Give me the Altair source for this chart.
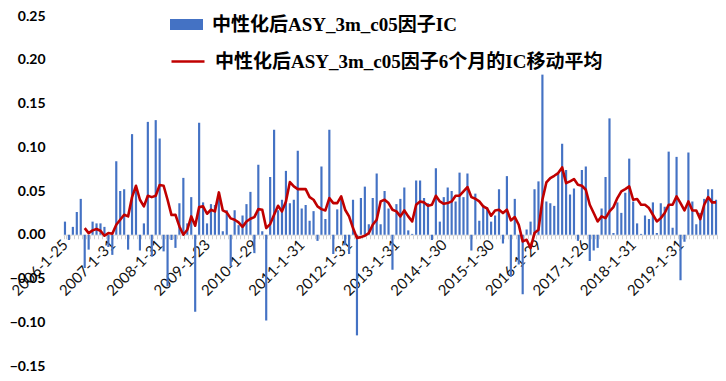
import json
import altair as alt
import pandas as pd

TICK_LABELS = ["2006-1-25", "2007-1-31", "2008-1-31", "2009-1-23", "2010-1-29",
               "2011-1-31", "2012-1-31", "2013-1-31", "2014-1-30", "2015-1-30",
               "2016-1-29", "2017-1-26", "2018-1-31", "2019-1-31"]

SERIES_BAR = "中性化后ASY_3m_c05因子IC"
SERIES_LINE = "中性化后ASY_3m_c05因子6个月的IC移动平均"

IC = [
    0.015, -0.006, 0.009, 0.026, 0.041, -0.038, -0.017, 0.015, 0.013, 0.013,
    0.009, -0.014, -0.023, 0.084, 0.050, 0.052, -0.017, 0.115, 0.052, -0.018,
    0.013, 0.129, -0.025, 0.131, 0.110, -0.019, -0.059, -0.006, -0.015, 0.036,
    0.065, 0.013, 0.043, -0.088, 0.128, 0.037, 0.013, 0.035, 0.034, 0.043,
    0.004, 0.028, -0.036, 0.028, 0.011, 0.022, 0.035, 0.049, -0.021, 0.080,
    0.004, -0.098, 0.066, 0.120, 0.028, 0.040, 0.073, 0.036, 0.040, 0.096,
    0.030, 0.034, 0.016, 0.027, -0.007, 0.078, 0.018, 0.120, -0.022, 0.029,
    0.043, -0.012, -0.022, 0.040, -0.115, 0.042, 0.055, 0.012, 0.042, 0.070,
    0.012, 0.050, 0.030, -0.040, 0.035, 0.041, 0.054, 0.005, 0.001, 0.062,
    0.062, 0.042, 0.036, -0.006, 0.076, 0.015, 0.043, 0.054, 0.050, 0.038,
    0.071, 0.043, 0.070, -0.018, 0.047, 0.016, 0.034, 0.031, 0.015, 0.022,
    0.052, -0.010, 0.067, -0.048, 0.041, -0.034, -0.068, 0.006, 0.015, 0.052,
    0.061, 0.183, 0.038, 0.036, 0.033, 0.070, 0.104, 0.074, 0.046, 0.053,
    -0.007, 0.074, 0.078, -0.030, -0.018, -0.015, 0.030, 0.066, 0.133, 0.002,
    0.037, 0.025, 0.048, 0.087, 0.038, 0.013, 0.001, 0.022, 0.018, 0.037,
    0.002, 0.036, 0.032, 0.095, 0.008, 0.089, -0.052, -0.008, 0.094, 0.038,
    0.012, 0.025, 0.041, 0.052, 0.052, 0.040,
]

IC_MA6 = [None, None, None, None, None,
    0.0076, 0.0019, 0.0050, 0.0065, 0.0046, -0.0011, 0.0019, 0.0011, 0.0114, 0.0171,
    0.0229, 0.0210, 0.0430, 0.0560, 0.0400, 0.0324, 0.0446, 0.0430, 0.0446, 0.0568,
    0.0560, 0.0400, 0.0225, 0.0229, 0.0095, 0.0000, 0.0057, 0.0210, 0.0103, 0.0316,
    0.0324, 0.0240, 0.0286, 0.0267, 0.0484, 0.0278, 0.0255, 0.0187, 0.0171, 0.0141,
    0.0090, 0.0152, 0.0183, 0.0202, 0.0293, 0.0286, 0.0076, 0.0122, 0.0229, 0.0331,
    0.0267, 0.0381, 0.0602, 0.0552, 0.0522, 0.0522, 0.0522, 0.0430, 0.0400, 0.0324,
    0.0293, 0.0278, 0.0419, 0.0362, 0.0362, 0.0438, 0.0286, 0.0210, 0.0076, -0.0038,
    -0.0027, -0.0011, 0.0019, 0.0114, 0.0171, 0.0381, 0.0400, 0.0362, 0.0286, 0.0267,
    0.0210, 0.0278, 0.0210, 0.0152, 0.0343, 0.0381, 0.0370, 0.0331, 0.0343, 0.0446,
    0.0381, 0.0354, 0.0362, 0.0381, 0.0446, 0.0446, 0.0495, 0.0545, 0.0430, 0.0411,
    0.0381, 0.0324, 0.0300, 0.0217, 0.0278, 0.0286, 0.0248, 0.0286, 0.0164, 0.0202,
    0.0114, -0.0076, -0.0057, -0.0152, 0.0019, 0.0057, 0.0400, 0.0598, 0.0648, 0.0674,
    0.0705, 0.0770, 0.0590, 0.0610, 0.0636, 0.0571, 0.0560, 0.0514, 0.0343, 0.0248,
    0.0152, 0.0210, 0.0190, 0.0267, 0.0316, 0.0419, 0.0495, 0.0522, 0.0552, 0.0400,
    0.0408, 0.0343, 0.0343, 0.0305, 0.0229, 0.0152, 0.0190, 0.0248, 0.0343, 0.0343,
    0.0438, 0.0362, 0.0278, 0.0381, 0.0278, 0.0278, 0.0179, 0.0343, 0.0430, 0.0370,
    0.0370,
]

Y_TICKS = [-0.15, -0.10, -0.05, 0.0, 0.05, 0.10, 0.15, 0.20, 0.25]

df = pd.DataFrame({"idx": list(range(len(IC))), "ic": IC, "ma": IC_MA6})
df["s1"] = SERIES_BAR
df["s2"] = SERIES_LINE

label_expr = ("datum.value % 12 == 0 ? " + json.dumps(TICK_LABELS, ensure_ascii=False)
              + "[floor(datum.value / 12)] : ''")

W, H = 655, 350
y0 = H * 0.25 / 0.40  # position of zero from top

x_enc = alt.X(
    "idx:O",
    scale=alt.Scale(paddingInner=0.45, paddingOuter=0.225),
    axis=alt.Axis(
        title=None, orient="bottom", offset=-(H - y0),
        labelExpr=label_expr, labelOverlap=False, labelAngle=-45,
        labelAlign="right", labelBaseline="middle", labelPadding=3,
        labelFont="Lato", labelFontSize=15, labelColor="#111111",
        domainColor="#D9D9D9", domainWidth=1, tickColor="#D0D0D0",
        tickSize=4, tickBand="extent", grid=False,
    ),
)

y_scale = alt.Scale(domain=[-0.15, 0.25], nice=False, zero=False)
y_axis = alt.Axis(
    title=None, values=Y_TICKS, format=".2f", domain=False, ticks=False,
    grid=False, labelPadding=18, labelFont="Lato", labelFontWeight="bold",
    labelFontSize=14, labelColor="#000000", labelFlush=False,
)

legend_common = dict(
    orient="none", title=None, padding=0,
    labelFont="Liberation Serif, Noto Sans CJK SC",
    labelFontSize=19, labelFontWeight="bold", labelColor="#000000",
    labelLimit=1000, symbolSize=1089, labelOffset=9,
)

bars = alt.Chart(df).mark_bar().encode(
    x=x_enc,
    y=alt.Y("ic:Q", scale=y_scale, axis=y_axis),
    fill=alt.Fill(
        "s1:N",
        scale=alt.Scale(domain=[SERIES_BAR], range=["#4472C4"]),
        legend=alt.Legend(legendX=107, legendY=-8,
                          symbolType="M-1,-0.33H1V0.33H-1Z", symbolStrokeWidth=0,
                          **legend_common),
    ),
)

line = alt.Chart(df).mark_line(strokeWidth=2.6, strokeJoin="round").encode(
    x=alt.X("idx:O"),
    y=alt.Y("ma:Q", scale=y_scale),
    stroke=alt.Stroke(
        "s2:N",
        scale=alt.Scale(domain=[SERIES_LINE], range=["#C00000"]),
        legend=alt.Legend(legendX=107, legendY=27.5,
                          symbolType="M-1,0H1", symbolStrokeWidth=2.5,
                          **legend_common),
    ),
)

chart = (
    alt.layer(bars, line)
    .properties(
        width=W, height=H,
        autosize=alt.AutoSizeParams(type="none"),
        padding={"left": 55, "top": 8, "right": 0, "bottom": 7},
        background="white",
    )
    .configure_view(stroke=None)
)

chart.save("out.html", embed_options={"renderer": "svg", "actions": False})
